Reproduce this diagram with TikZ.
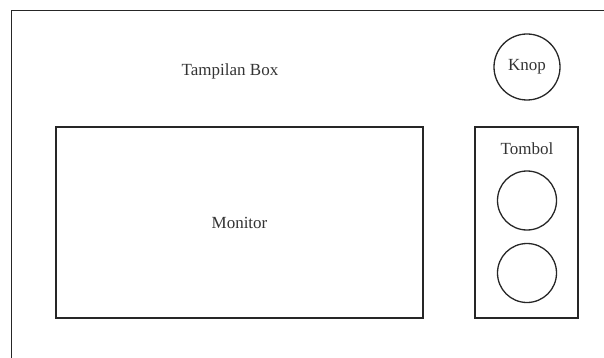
\documentclass[tikz,border=0pt]{standalone}
\usepackage{fontspec}
\setmainfont{Liberation Serif}
\begin{document}
\begin{tikzpicture}[x=1pt,y=-1pt,
  outline/.style={draw=black!85,line width=1.3pt},
  panel/.style={outline,rectangle,inner sep=0pt},
  knob/.style={outline,circle,inner sep=0pt,minimum size=#1},
  lbl/.style={font=\fontsize{17pt}{20pt}\selectfont,text=black!80}]
  \useasboundingbox (0,0) rectangle (604,358);
  \clip (0,0) rectangle (604,358);
  % casing of the box, running past the page edges
  \draw[outline] (11.5,370) -- (11.5,10.5) -- (620,10.5);
  \node[lbl] (title) at (230,71) {Tampilan Box};
  % rotary knob
  \node[knob=66pt,lbl] (knop) at (527,67) {Knop};
  % display area
  \node[panel,minimum width=367pt,minimum height=191pt] (monitor) at (239.5,222.5) {};
  \node[lbl] (monlbl) at (monitor.center) {Monitor};
  % button panel
  \node[panel,minimum width=103pt,minimum height=191pt] (tombol) at (526.5,222.5) {};
  \node[lbl] (tomlbl) at (527,149) {Tombol};
  \node[knob=59pt] (btnA) at (527,200.5) {};
  \node[knob=59pt] (btnB) at (527,273) {};
\end{tikzpicture}
\end{document}
